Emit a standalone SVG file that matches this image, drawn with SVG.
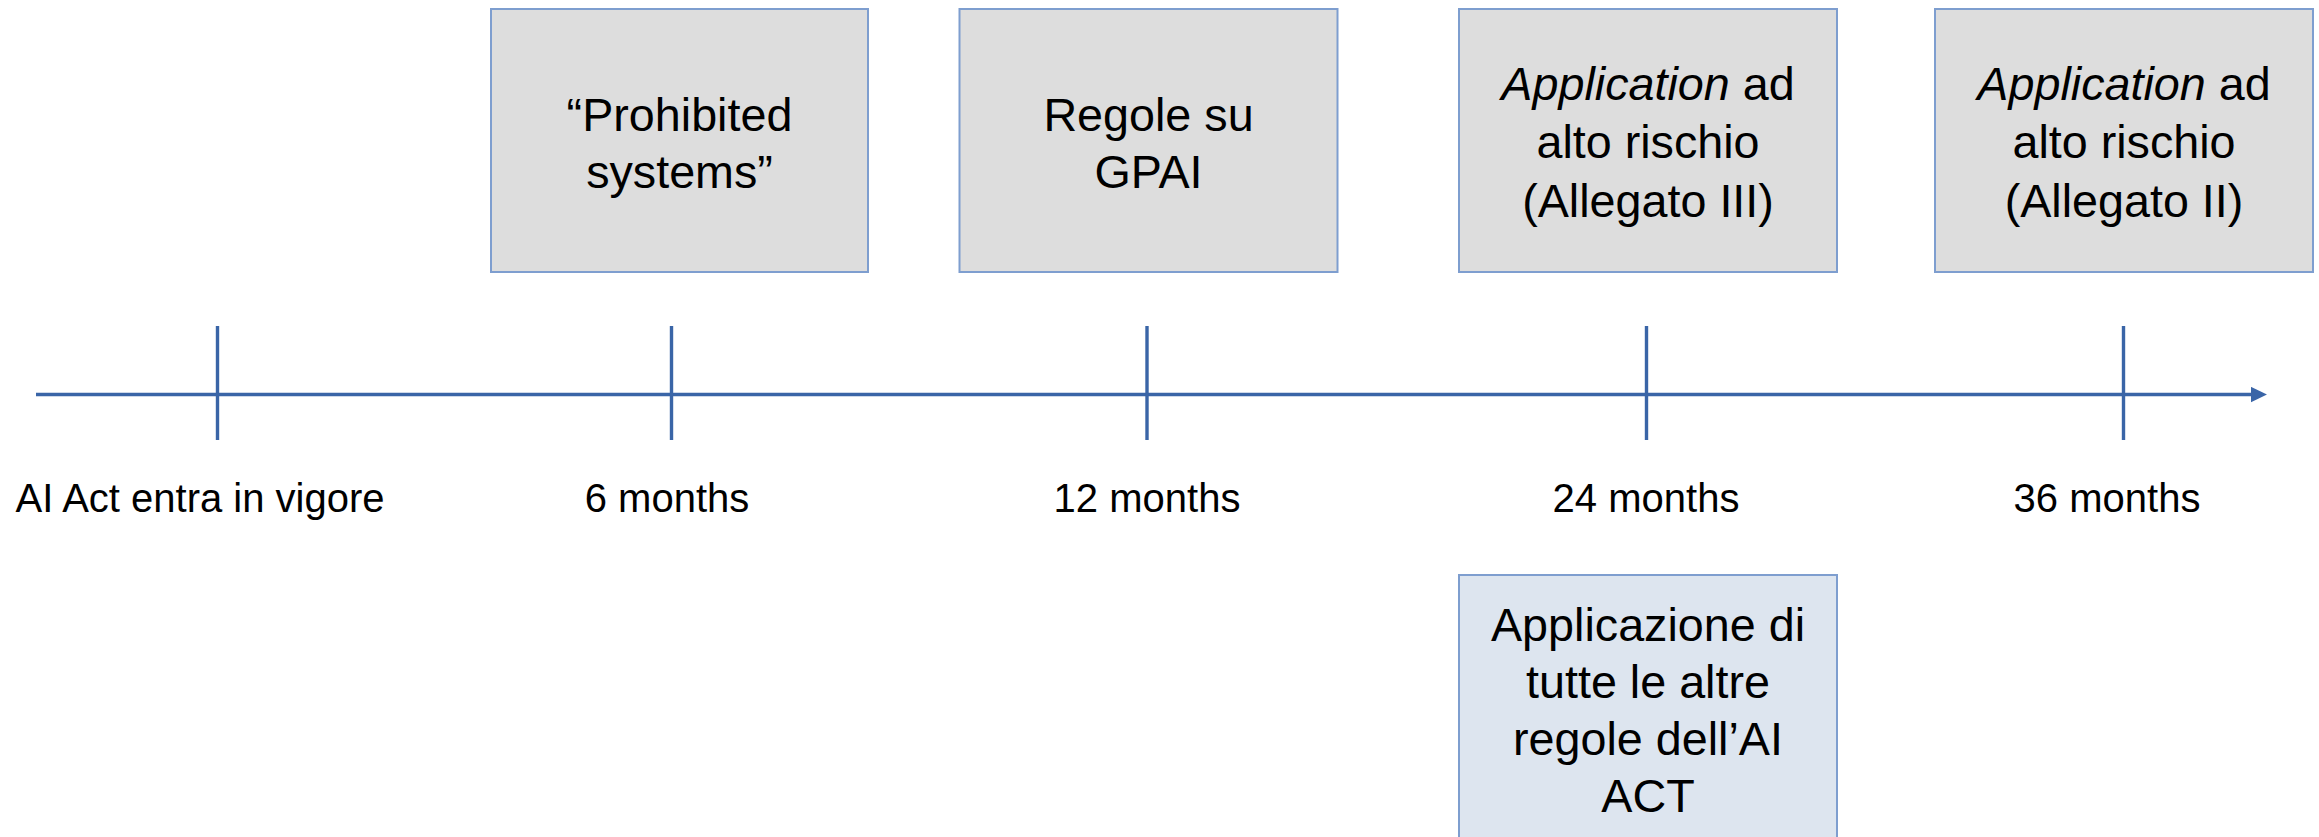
<svg xmlns="http://www.w3.org/2000/svg" width="2319" height="837" viewBox="0 0 2319 837">
<style>
.box{fill:#DDDDDD;stroke:#7E9ECF;stroke-width:2}
.box2{fill:#DDE5EF;stroke:#7E9ECF;stroke-width:2}
.t{font-family:"Liberation Sans",Arial,sans-serif;font-size:46.7px;fill:#000;text-anchor:middle}
.lbl{font-family:"Liberation Sans",Arial,sans-serif;font-size:40px;fill:#000;text-anchor:middle}
.axis{stroke:#3A65A7;stroke-width:3.4;fill:none}
</style>
<defs>
<marker id="arr" markerWidth="6" markerHeight="6" refX="0" refY="2.25" orient="auto" markerUnits="strokeWidth">
<path d="M0,0 L4.7,2.25 L0,4.5 Z" fill="#3A65A7"/>
</marker>
</defs>
<rect width="2319" height="837" fill="#FFFFFF"/>
<g id="connectors">
<line class="axis" x1="36" y1="394.5" x2="2251" y2="394.5" marker-end="url(#arr)"/>
<line class="axis" x1="217.5" y1="326" x2="217.5" y2="440"/>
<line class="axis" x1="671.5" y1="326" x2="671.5" y2="440"/>
<line class="axis" x1="1147" y1="326" x2="1147" y2="440"/>
<line class="axis" x1="1646.5" y1="326" x2="1646.5" y2="440"/>
<line class="axis" x1="2123.5" y1="326" x2="2123.5" y2="440"/>
</g>
<g id="box-prohibited">
<rect class="box" x="491" y="9" width="377" height="263"/>
<text class="t" x="679.5" y="130.7">“Prohibited</text>
<text class="t" x="679.5" y="188">systems”</text>
</g>
<g id="box-gpai">
<rect class="box" x="959.5" y="9" width="378" height="263"/>
<text class="t" x="1148.5" y="130.7">Regole su</text>
<text class="t" x="1148.5" y="188">GPAI</text>
</g>
<g id="box-allegato3">
<rect class="box" x="1459" y="9" width="378" height="263"/>
<text class="t" x="1648" y="100"><tspan font-style="italic">Application</tspan> ad</text>
<text class="t" x="1648" y="158.3">alto rischio</text>
<text class="t" x="1648" y="216.5">(Allegato III)</text>
</g>
<g id="box-allegato2">
<rect class="box" x="1935" y="9" width="378" height="263"/>
<text class="t" x="2124" y="100"><tspan font-style="italic">Application</tspan> ad</text>
<text class="t" x="2124" y="158.3">alto rischio</text>
<text class="t" x="2124" y="216.5">(Allegato II)</text>
</g>
<g id="box-altre">
<rect class="box2" x="1459" y="575" width="378" height="280"/>
<text class="t" x="1648" y="640.7">Applicazione di</text>
<text class="t" x="1648" y="697.5">tutte le altre</text>
<text class="t" x="1648" y="755">regole dell’AI</text>
<text class="t" x="1648" y="812.3">ACT</text>
</g>
<g id="labels">
<text class="lbl" x="200" y="511.5">AI Act entra in vigore</text>
<text class="lbl" x="667" y="511.5">6 months</text>
<text class="lbl" x="1147" y="511.5">12 months</text>
<text class="lbl" x="1646" y="511.5">24 months</text>
<text class="lbl" x="2107" y="511.5">36 months</text>
</g>
</svg>
